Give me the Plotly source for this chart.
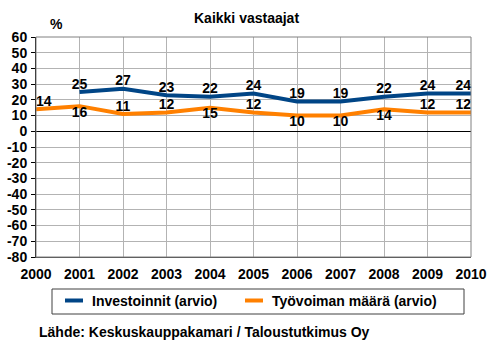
import plotly.graph_objects as go

# Survey results, all respondents (%)
years = [2000, 2001, 2002, 2003, 2004, 2005, 2006, 2007, 2008, 2009, 2010]
investoinnit = [None, 25, 27, 23, 22, 24, 19, 19, 22, 24, 24]
tyovoima = [14, 16, 11, 12, 15, 12, 10, 10, 14, 12, 12]
y_ticks = list(range(-80, 61, 10))
y_labels = [str(v) for v in y_ticks]  # plain hyphen minus

series_names = ["Investoinnit (arvio)", "Työvoiman määrä (arvio)"]
blue = "#004586"
orange = "#ff8000"
grid = "#b3b3b3"
FONT = "Liberation Sans"
fs = 14

W, H = 490, 340
L, R, T, B = 36, 19, 37, 83
PW, PH = W - L - R, H - T - B


def px(x):
    return (x - L) / PW


def py(y):
    return (H - B - y) / PH


inv_pos = ["top center"] * len(years)
inv_pos[-1] = "top left"
tyo_pos = ["top right", "bottom center", "top center", "top center",
           "bottom center", "top center", "bottom center", "bottom center",
           "bottom center", "top center", "top left"]

fig = go.Figure()
fig.add_trace(go.Scatter(
    x=years, y=investoinnit, mode="lines+text", name=series_names[0],
    line=dict(color=blue, width=4),
    text=[("" if v is None else str(v)) for v in investoinnit],
    textposition=inv_pos,
    textfont=dict(family=FONT, size=fs, color="black", weight="bold"),
    cliponaxis=False, connectgaps=False,
))
fig.add_trace(go.Scatter(
    x=years, y=tyovoima, mode="lines+text", name=series_names[1],
    line=dict(color=orange, width=4),
    text=[str(v) for v in tyovoima],
    textposition=tyo_pos,
    textfont=dict(family=FONT, size=fs, color="black", weight="bold"),
    cliponaxis=False,
))

shapes = [
    # plot frame
    dict(type="rect", xref="paper", yref="paper", x0=0, x1=1, y0=0, y1=1,
         line=dict(color="#808080", width=1), layer="above"),
    # legend box
    dict(type="rect", xref="paper", yref="paper",
         x0=px(52), x1=px(464), y0=py(314), y1=py(289),
         line=dict(color="#404040", width=1)),
    dict(type="line", xref="paper", yref="paper",
         x0=px(65), x1=px(83), y0=py(300.5), y1=py(300.5),
         line=dict(color=blue, width=4)),
    dict(type="line", xref="paper", yref="paper",
         x0=px(245), x1=px(263), y0=py(300.5), y1=py(300.5),
         line=dict(color=orange, width=4)),
]

afont = dict(family=FONT, size=fs, color="black", weight="bold")
annotations = [
    dict(text="Kaikki vastaajat", xref="paper", yref="paper",
         x=px(246), y=py(18), xanchor="center", yanchor="middle",
         showarrow=False, font=afont),
    dict(text="%", xref="paper", yref="paper",
         x=px(56), y=py(24), xanchor="center", yanchor="middle",
         showarrow=False, font=afont),
    dict(text=series_names[0], xref="paper", yref="paper",
         x=px(90), y=py(301), xanchor="left", yanchor="middle",
         showarrow=False, font=afont),
    dict(text=series_names[1], xref="paper", yref="paper",
         x=px(270), y=py(301), xanchor="left", yanchor="middle",
         showarrow=False, font=afont),
    dict(text="Lähde: Keskuskauppakamari / Taloustutkimus Oy",
         xref="paper", yref="paper",
         x=px(37), y=py(332), xanchor="left", yanchor="middle",
         showarrow=False, font=afont),
]

fig.update_layout(
    width=W, height=H,
    margin=dict(l=L, r=R, t=T, b=B, pad=0, autoexpand=False),
    paper_bgcolor="white", plot_bgcolor="white",
    showlegend=False,
    shapes=shapes, annotations=annotations,
    font=dict(family=FONT, size=fs, color="black"),
)
fig.update_xaxes(
    range=[2000, 2010], tickvals=years, ticktext=[str(y) for y in years],
    showgrid=True, gridcolor=grid, gridwidth=1,
    zeroline=False, showline=True, linecolor="#404040", linewidth=1,
    ticks="", ticklabelstandoff=4, automargin=False,
    tickfont=dict(family=FONT, size=fs, color="black", weight="bold"),
)
fig.update_yaxes(
    range=[-80, 60], tickvals=y_ticks, ticktext=y_labels,
    showgrid=True, gridcolor=grid, gridwidth=1,
    zeroline=True, zerolinecolor="black", zerolinewidth=1,
    showline=True, linecolor="black", linewidth=1,
    ticks="outside", ticklen=4, tickcolor="black",
    ticklabelstandoff=1, automargin=False,
    tickfont=dict(family=FONT, size=fs, color="black", weight="bold"),
)

fig.write_html("out.html")
